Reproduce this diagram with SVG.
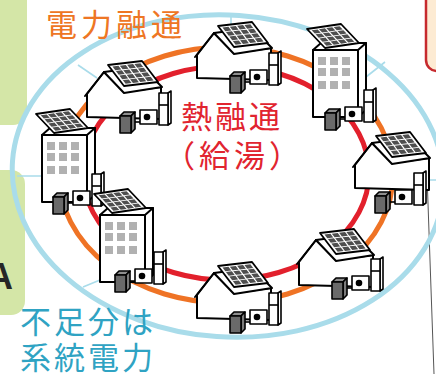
<svg xmlns="http://www.w3.org/2000/svg" width="436" height="374" viewBox="0 0 436 374">
<style>
.ln{fill:none;stroke:#000;stroke-width:2;stroke-linejoin:round;stroke-linecap:round}
.wh{fill:#fff;stroke:#000;stroke-width:2;stroke-linejoin:round}
.win{fill:#b1b1b1}
.cell{fill:#4e4e4e}
.pf{fill:#fff;stroke:#000;stroke-width:1.8;vector-effect:non-scaling-stroke;stroke-linejoin:round}
.u{stroke:#000;stroke-width:1.6;stroke-linejoin:round}
.ring{fill:none;stroke-width:5}
.spoke{stroke:#a9dcea;stroke-width:1.6;fill:none}
.t{font-family:"Noto Sans CJK JP","Noto Sans CJK SC",sans-serif;font-size:31px}
</style>
<defs>
  <!-- solar panel drawn in a 100x100 square, skewed into place with a matrix -->
  <g id="panel">
    <rect class="pf" x="0" y="0" width="100" height="100"/>
    <path class="cell" d="M9,9h17.5v17.5h-17.5z M30.5,9h17.5v17.5h-17.5z M52,9h17.5v17.5h-17.5z M73.5,9h17.5v17.5h-17.5z
      M9,30.5h17.5v17.5h-17.5z M30.5,30.5h17.5v17.5h-17.5z M52,30.5h17.5v17.5h-17.5z M73.5,30.5h17.5v17.5h-17.5z
      M9,52h17.5v17.5h-17.5z M30.5,52h17.5v17.5h-17.5z M52,52h17.5v17.5h-17.5z M73.5,52h17.5v17.5h-17.5z
      M9,73.5h17.5v17.5h-17.5z M30.5,73.5h17.5v17.5h-17.5z M52,73.5h17.5v17.5h-17.5z M73.5,73.5h17.5v17.5h-17.5z"/>
  </g>
  <!-- house body, origin at bottom-left corner of the gable wall -->
  <g id="house">
    <path class="wh" d="M0,0 V-23 L17,-45 L37,-25 L74,-30 V2 Z"/>
    <path class="wh" d="M17,-45 L55,-50 L75,-30 L37,-24 Z"/>
    <path class="ln" d="M-2,-21 L17,-45"/>
    <use href="#panel" transform="matrix(0.34,-0.04,0.16,0.21,21,-52)"/>
  </g>
  <!-- office block, origin at bottom-left of the front face -->
  <g id="bldg">
    <path class="wh" d="M0,0 V-67 L8,-74 H53 V-7 L45,0 Z"/>
    <path class="ln" d="M0,-67 H45 L53,-74 M45,-67 V0"/>
    <g class="win">
      <rect x="5" y="-60" width="8" height="8"/><rect x="17" y="-60" width="8" height="8"/><rect x="29" y="-60" width="8" height="8"/>
      <rect x="5" y="-49" width="8" height="8"/><rect x="17" y="-49" width="8" height="8"/><rect x="29" y="-49" width="8" height="8"/>
      <rect x="5" y="-36" width="8" height="8"/><rect x="17" y="-36" width="8" height="8"/><rect x="29" y="-36" width="8" height="8"/>
    </g>
    <use href="#panel" transform="matrix(0.34,-0.05,0.18,0.19,-6,-88)"/>
  </g>
  <!-- storage battery, heat pump and hot-water tank; origin at battery front top-left -->
  <g id="units">
    <path class="u" fill="none" d="M15,9 H20"/>
    <path class="u" fill="#8e8e8e" d="M0,3 L4,-1 H15 L11,3 Z"/>
    <path class="u" fill="#7b7b7b" d="M11,3 L15,-1 V16 L11,20 Z"/>
    <rect class="u" fill="#6a6a6a" x="0" y="3" width="11" height="17"/>
    <rect class="u" fill="#fff" x="20" y="-3" width="17" height="14"/>
    <circle cx="27" cy="4" r="3.3" fill="#000"/>
    <path class="u" fill="#fff" d="M48,-20 L51,-22 V10 L48,12 Z"/>
    <rect class="u" fill="#fff" x="39" y="-20" width="9" height="32"/>
    <path class="u" fill="none" d="M39,-8 H48"/>
  </g>
</defs>

<!-- side panels cut by the frame edge -->
<rect x="-20" y="-20" width="47" height="145" rx="14" fill="#d4e6a7"/>
<rect x="-20" y="170" width="45" height="145" rx="14" fill="#d4e6a7"/>
<text x="-13" y="289" font-family="'Liberation Sans',Arial,sans-serif" font-weight="bold" font-size="36" fill="#262626">A</text>
<rect x="426" y="-20" width="40" height="91" rx="11" fill="#fdebd3" stroke="#c62a2e" stroke-width="2.5"/>
<path d="M427,175 L434,374" stroke="#555" stroke-width="1" fill="none"/>

<!-- networks: grid ring, power-sharing ring, heat-sharing ring and grid feeders -->
<g id="connectors">
  <ellipse class="ring" cx="228" cy="176" rx="216" ry="161" transform="rotate(4 228 176)" stroke="#a9dcea"/>
  <path class="spoke" d="M78,65 L97,78 M231,14 V28 M385,62 L366,77 M430,180 H436 M83,287 L100,280 M17,176 H42"/>
  <ellipse class="ring" cx="226" cy="175" rx="167" ry="128" stroke="#ef7325"/>
  <ellipse class="ring" cx="226" cy="173" rx="143" ry="107" stroke="#e2202c"/>
</g>

<g id="house-top">
  <use href="#house" x="197" y="78"/>
  <use href="#units" x="230" y="73"/>
</g>
<g id="office-top-right">
  <use href="#bldg" x="313" y="117"/>
  <use href="#units" x="325" y="110"/>
</g>
<g id="house-top-left">
  <use href="#house" x="87" y="117"/>
  <use href="#units" x="120" y="113"/>
</g>
<g id="office-left">
  <use href="#bldg" x="42" y="202"/>
  <use href="#units" x="53" y="194"/>
</g>
<g id="house-right">
  <use href="#house" x="355" y="188"/>
  <use href="#units" x="375" y="193"/>
</g>
<g id="office-lower-left">
  <use href="#bldg" x="100" y="282"/>
  <use href="#units" x="115" y="272"/>
</g>
<g id="house-lower-right">
  <use href="#house" x="299" y="285"/>
  <use href="#units" x="332" y="279"/>
</g>
<g id="house-bottom">
  <use href="#house" x="197" y="318"/>
  <use href="#units" x="230" y="313"/>
</g>

<g id="labels">
  <text class="t" x="46" y="36" fill="#ee7624" font-size="30" letter-spacing="4">電力融通</text>
  <text class="t" x="181" y="128" fill="#e1242f" letter-spacing="3">熱融通</text>
  <text class="t" x="164" y="167" fill="#e1242f" letter-spacing="4">（給湯）</text>
  <text class="t" x="20" y="333" fill="#2fa3c3" letter-spacing="3">不足分は</text>
  <text class="t" x="20" y="369" fill="#2fa3c3" letter-spacing="3">系統電力</text>
</g>
</svg>
